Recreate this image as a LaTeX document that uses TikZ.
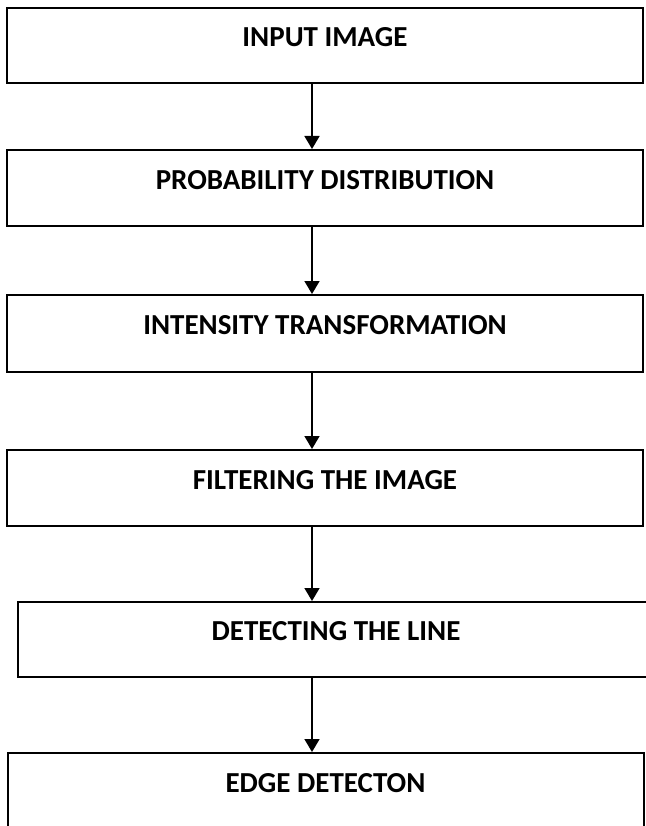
\documentclass[tikz,border=0pt]{standalone}
\usepackage{fontspec}
\setmainfont{Carlito}
\usetikzlibrary{arrows.meta}

\begin{document}
\begin{tikzpicture}[x=1pt,y=-1pt]
\tikzset{
  stepbox/.style={draw, line width=2pt, minimum width=636pt, minimum height=76pt,
    font=\fontsize{29}{31}\selectfont\bfseries, inner sep=0pt,
    text height=20pt, text depth=17.4pt},
  flow/.style={-{Triangle[width=15pt,length=13pt]}, line width=1.6pt}
}
\useasboundingbox (0,0) rectangle (645,826);
% process steps
\node[stepbox, minimum height=75pt] (input) at (325,45.5) {INPUT IMAGE};
\node[stepbox] (prob) at (325,188) {PROBABILITY DISTRIBUTION};
\node[stepbox, minimum height=77pt] (intens) at (325,333.5) {INTENSITY TRANSFORMATION};
\node[stepbox] (filter) at (325,488) {FILTERING THE IMAGE};
\node[stepbox, minimum height=75pt] (line) at (336,639.5) {DETECTING THE LINE};
\node[stepbox, minimum height=77pt] (edge) at (325.5,791.5) {EDGE DETECTON};
\coordinate (axis) at (312,0);
% arrows
\draw[flow] (input.south -| axis) -- (prob.north -| axis);
\draw[flow] (prob.south -| axis) -- (intens.north -| axis);
\draw[flow] (intens.south -| axis) -- (filter.north -| axis);
\draw[flow] (filter.south -| axis) -- (line.north -| axis);
\draw[flow] (line.south -| axis) -- (edge.north -| axis);
\end{tikzpicture}
\end{document}
